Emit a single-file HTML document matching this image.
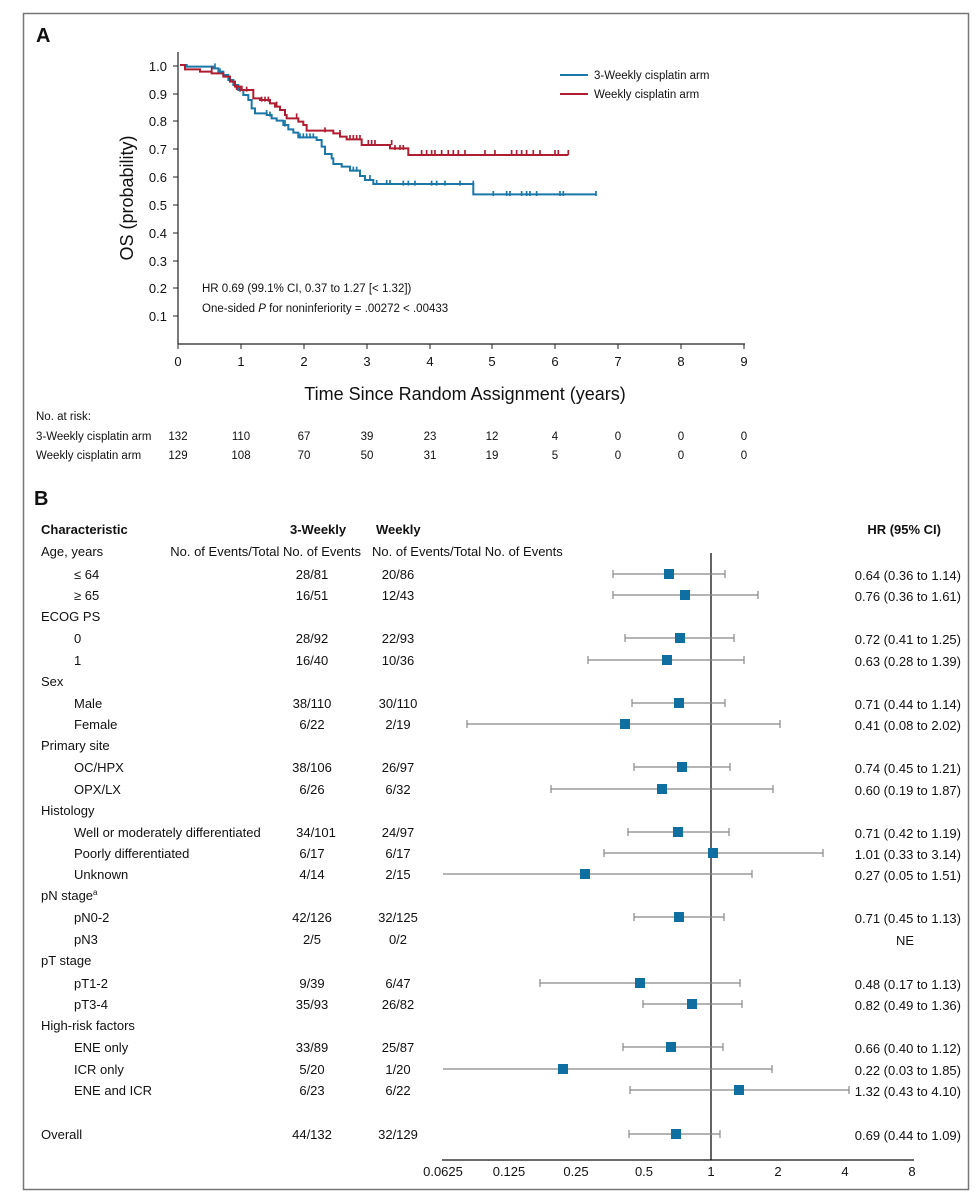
<!DOCTYPE html><html><head><meta charset="utf-8"><style>
body{margin:0;background:#fff;width:978px;height:1199px;overflow:hidden;font-family:"Liberation Sans",sans-serif}
svg text{font-family:"Liberation Sans",sans-serif;fill:#111}
</style></head><body>
<svg width="978" height="1199" xmlns="http://www.w3.org/2000/svg">
<rect x="23.5" y="13.5" width="945" height="1176" fill="none" stroke="#777" stroke-width="1.5"/>
<text x="36" y="42" font-size="20" font-weight="bold">A</text>
<text x="34" y="505" font-size="20" font-weight="bold">B</text>
<!-- KM axes -->
<g stroke="#222" stroke-width="1.2">
<line x1="178" y1="52" x2="178" y2="344"/><line x1="178" y1="344" x2="745" y2="344"/>
</g>
<g stroke="#222" stroke-width="1">
<line x1="173" y1="66" x2="178" y2="66"/><line x1="173" y1="94" x2="178" y2="94"/><line x1="173" y1="121" x2="178" y2="121"/><line x1="173" y1="149" x2="178" y2="149"/><line x1="173" y1="177" x2="178" y2="177"/><line x1="173" y1="205" x2="178" y2="205"/><line x1="173" y1="233" x2="178" y2="233"/><line x1="173" y1="261" x2="178" y2="261"/><line x1="173" y1="288" x2="178" y2="288"/><line x1="173" y1="316" x2="178" y2="316"/>
<line x1="178" y1="344" x2="178" y2="349"/><line x1="241" y1="344" x2="241" y2="349"/><line x1="304" y1="344" x2="304" y2="349"/><line x1="367" y1="344" x2="367" y2="349"/><line x1="430" y1="344" x2="430" y2="349"/><line x1="492" y1="344" x2="492" y2="349"/><line x1="555" y1="344" x2="555" y2="349"/><line x1="618" y1="344" x2="618" y2="349"/><line x1="681" y1="344" x2="681" y2="349"/><line x1="744" y1="344" x2="744" y2="349"/>
</g>
<g font-size="13" text-anchor="end">
<text x="167" y="71">1.0</text><text x="167" y="99">0.9</text><text x="167" y="126">0.8</text><text x="167" y="154">0.7</text><text x="167" y="182">0.6</text><text x="167" y="210">0.5</text><text x="167" y="238">0.4</text><text x="167" y="266">0.3</text><text x="167" y="293">0.2</text><text x="167" y="321">0.1</text>
</g>
<g font-size="13" text-anchor="middle">
<text x="178" y="366">0</text><text x="241" y="366">1</text><text x="304" y="366">2</text><text x="367" y="366">3</text><text x="430" y="366">4</text><text x="492" y="366">5</text><text x="555" y="366">6</text><text x="618" y="366">7</text><text x="681" y="366">8</text><text x="744" y="366">9</text>
</g>
<text x="465" y="400" font-size="18" text-anchor="middle">Time Since Random Assignment (years)</text>
<text transform="translate(133,198) rotate(-90)" font-size="18" text-anchor="middle">OS (probability)</text>
<text x="202" y="292" font-size="11.5">HR 0.69 (99.1% CI, 0.37 to 1.27 [&lt; 1.32])</text>
<text x="202" y="312" font-size="11.5">One-sided <tspan font-style="italic">P</tspan> for noninferiority = .00272 &lt; .00433</text>
<line x1="560" y1="75" x2="588" y2="75" stroke="#1a77a8" stroke-width="2"/>
<text x="594" y="79" font-size="11.5">3-Weekly cisplatin arm</text>
<line x1="560" y1="94" x2="588" y2="94" stroke="#b01c30" stroke-width="2"/>
<text x="594" y="98" font-size="11.5">Weekly cisplatin arm</text>
<g transform="translate(170,50) scale(0.3333)" fill="none" stroke-width="6">
<polyline stroke="#1a77a8" points="30,45 50,45 50,50 130,50 130,55 145,55 145,65 160,65 160,75 175,75 175,90 190,90 190,105 205,105 205,120 220,120 220,135 235,135 235,150 245,150 245,175 255,175 255,190 290,190 290,195 305,195 305,205 320,205 320,212 340,212 340,225 355,225 355,238 370,238 370,248 385,248 385,262 440,262 440,270 455,270 455,290 465,290 465,312 485,312 485,325 490,325 490,342 515,342 515,350 540,350 540,362 570,362 570,378 585,378 585,390 610,390 610,402 910,402 910,433 1280,433"/>
<polyline stroke="#b01c30" points="30,45 45,45 45,58 90,58 90,65 125,65 125,70 160,70 160,80 180,80 180,95 195,95 195,110 215,110 215,120 250,120 250,145 270,145 270,150 300,150 300,160 315,160 315,170 330,170 330,180 345,180 345,195 350,195 350,205 385,205 385,215 400,215 400,225 410,225 410,242 490,242 490,250 510,250 510,260 530,260 530,268 575,268 575,285 660,285 660,295 715,295 715,315 1195,315"/>
<g stroke="#1a77a8" stroke-width="5"><path d="M135,40v15M150,55v15M290,180v15M300,185v15M345,210v20M390,250v15M400,250v15M410,250v15M420,250v15M430,250v15M550,350v15M560,350v15M600,375v15M620,390v15M650,390v15M660,390v15M700,392v15M715,392v15M735,392v15M785,392v15M800,392v15M825,392v15M870,392v15M910,392v15M970,423v15M1010,423v15M1020,423v15M1055,423v15M1070,423v15M1080,423v15M1100,423v15M1170,423v15M1180,423v15M1278,423v15"/></g>
<g stroke="#b01c30" stroke-width="5"><path d="M125,50v15M200,105v15M210,110v15M230,110v15M275,140v15M285,140v15M295,140v15M320,155v15M380,190v15M465,232v15M510,240v15M540,255v15M550,255v15M560,255v15M570,255v15M595,270v15M605,270v15M615,270v15M665,270v15M675,285v15M690,285v15M700,285v15M755,300v15M770,300v15M785,300v15M795,300v15M815,300v15M835,300v15M850,300v15M865,300v15M885,300v15M945,300v15M975,300v15M1025,300v15M1040,300v15M1055,300v15M1070,300v15M1090,300v15M1110,300v15M1155,300v15M1165,300v15M1195,300v15"/></g>
</g>
<!-- risk table -->
<g font-size="11.5">
<text x="36" y="420">No. at risk:</text>
<text x="36" y="440">3-Weekly cisplatin arm</text><text x="36" y="459">Weekly cisplatin arm</text>
</g>
<g font-size="11.5" text-anchor="middle">
<text x="178" y="440">132</text><text x="241" y="440">110</text><text x="304" y="440">67</text><text x="367" y="440">39</text><text x="430" y="440">23</text><text x="492" y="440">12</text><text x="555" y="440">4</text><text x="618" y="440">0</text><text x="681" y="440">0</text><text x="744" y="440">0</text>
<text x="178" y="459">129</text><text x="241" y="459">108</text><text x="304" y="459">70</text><text x="367" y="459">50</text><text x="430" y="459">31</text><text x="492" y="459">19</text><text x="555" y="459">5</text><text x="618" y="459">0</text><text x="681" y="459">0</text><text x="744" y="459">0</text>
</g>
<!-- forest -->
<g font-size="13">
<text x="41" y="534" font-weight="bold">Characteristic</text>
<text x="290" y="534" font-weight="bold">3-Weekly</text>
<text x="376" y="534" font-weight="bold">Weekly</text>
<text x="941" y="534" font-weight="bold" text-anchor="end">HR (95% CI)</text>
<text x="41" y="556">Age, years</text>
<text x="361" y="556" text-anchor="end">No. of Events/Total No. of Events</text>
<text x="372" y="556">No. of Events/Total No. of Events</text>
<g>
<text x="74" y="579">≤ 64</text><text x="74" y="600">≥ 65</text>
<text x="41" y="621">ECOG PS</text><text x="74" y="643">0</text><text x="74" y="665">1</text>
<text x="41" y="686">Sex</text><text x="74" y="708">Male</text><text x="74" y="729">Female</text>
<text x="41" y="750">Primary site</text><text x="74" y="772">OC/HPX</text><text x="74" y="794">OPX/LX</text>
<text x="41" y="815">Histology</text><text x="74" y="837">Well or moderately differentiated</text><text x="74" y="858">Poorly differentiated</text><text x="74" y="879">Unknown</text>
<text x="41" y="900">pN stage<tspan font-size="8" dy="-5">a</tspan></text><text x="74" y="922">pN0-2</text><text x="74" y="944">pN3</text>
<text x="41" y="965">pT stage</text><text x="74" y="988">pT1-2</text><text x="74" y="1009">pT3-4</text>
<text x="41" y="1030">High-risk factors</text><text x="74" y="1052">ENE only</text><text x="74" y="1074">ICR only</text><text x="74" y="1095">ENE and ICR</text>
<text x="41" y="1139">Overall</text>
</g>
<g text-anchor="middle">
<text x="312" y="579">28/81</text><text x="398" y="579">20/86</text>
<text x="312" y="600">16/51</text><text x="398" y="600">12/43</text>
<text x="312" y="643">28/92</text><text x="398" y="643">22/93</text>
<text x="312" y="665">16/40</text><text x="398" y="665">10/36</text>
<text x="312" y="708">38/110</text><text x="398" y="708">30/110</text>
<text x="312" y="729">6/22</text><text x="398" y="729">2/19</text>
<text x="312" y="772">38/106</text><text x="398" y="772">26/97</text>
<text x="312" y="794">6/26</text><text x="398" y="794">6/32</text>
<text x="316" y="837">34/101</text><text x="398" y="837">24/97</text>
<text x="312" y="858">6/17</text><text x="398" y="858">6/17</text>
<text x="312" y="879">4/14</text><text x="398" y="879">2/15</text>
<text x="312" y="922">42/126</text><text x="398" y="922">32/125</text>
<text x="312" y="944">2/5</text><text x="398" y="944">0/2</text>
<text x="312" y="988">9/39</text><text x="398" y="988">6/47</text>
<text x="312" y="1009">35/93</text><text x="398" y="1009">26/82</text>
<text x="312" y="1052">33/89</text><text x="398" y="1052">25/87</text>
<text x="312" y="1074">5/20</text><text x="398" y="1074">1/20</text>
<text x="312" y="1095">6/23</text><text x="398" y="1095">6/22</text>
<text x="312" y="1139">44/132</text><text x="398" y="1139">32/129</text>
</g>
<g text-anchor="end">
<text x="961" y="580">0.64 (0.36 to 1.14)</text><text x="961" y="601">0.76 (0.36 to 1.61)</text>
<text x="961" y="644">0.72 (0.41 to 1.25)</text><text x="961" y="666">0.63 (0.28 to 1.39)</text>
<text x="961" y="709">0.71 (0.44 to 1.14)</text><text x="961" y="730">0.41 (0.08 to 2.02)</text>
<text x="961" y="773">0.74 (0.45 to 1.21)</text><text x="961" y="795">0.60 (0.19 to 1.87)</text>
<text x="961" y="838">0.71 (0.42 to 1.19)</text><text x="961" y="859">1.01 (0.33 to 3.14)</text><text x="961" y="880">0.27 (0.05 to 1.51)</text>
<text x="961" y="923">0.71 (0.45 to 1.13)</text><text x="914" y="945">NE</text>
<text x="961" y="989">0.48 (0.17 to 1.13)</text><text x="961" y="1010">0.82 (0.49 to 1.36)</text>
<text x="961" y="1053">0.66 (0.40 to 1.12)</text><text x="961" y="1075">0.22 (0.03 to 1.85)</text><text x="961" y="1096">1.32 (0.43 to 4.10)</text>
<text x="961" y="1140">0.69 (0.44 to 1.09)</text>
</g>
</g>
<line x1="711" y1="553" x2="711" y2="1160" stroke="#111" stroke-width="1.3"/>
<line x1="442" y1="1160" x2="914" y2="1160" stroke="#111" stroke-width="1.3"/>
<g font-size="13" text-anchor="middle">
<text x="443" y="1176">0.0625</text><text x="509" y="1176">0.125</text><text x="576" y="1176">0.25</text><text x="644" y="1176">0.5</text><text x="711" y="1176">1</text><text x="778" y="1176">2</text><text x="845" y="1176">4</text><text x="912" y="1176">8</text>
</g>
<g stroke="#888" stroke-width="1.2" fill="none">
<path d="M613,574H725M613,570v8M725,570v8"/>
<path d="M613,595H758M613,591v8M758,591v8"/>
<path d="M625,638H734M625,634v8M734,634v8"/>
<path d="M588,660H744M588,656v8M744,656v8"/>
<path d="M632,703H725M632,699v8M725,699v8"/>
<path d="M467,724H780M467,720v8M780,720v8"/>
<path d="M634,767H730M634,763v8M730,763v8"/>
<path d="M551,789H773M551,785v8M773,785v8"/>
<path d="M628,832H729M628,828v8M729,828v8"/>
<path d="M604,853H823M604,849v8M823,849v8"/>
<path d="M443,874H752M752,870v8"/>
<path d="M634,917H724M634,913v8M724,913v8"/>
<path d="M540,983H740M540,979v8M740,979v8"/>
<path d="M643,1004H742M643,1000v8M742,1000v8"/>
<path d="M623,1047H723M623,1043v8M723,1043v8"/>
<path d="M443,1069H772M772,1065v8"/>
<path d="M630,1090H849M630,1086v8M849,1086v8"/>
<path d="M629,1134H720M629,1130v8M720,1130v8"/>
</g>
<g fill="#0f6fa0">
<rect x="664" y="569" width="10" height="10"/><rect x="680" y="590" width="10" height="10"/>
<rect x="675" y="633" width="10" height="10"/><rect x="662" y="655" width="10" height="10"/>
<rect x="674" y="698" width="10" height="10"/><rect x="620" y="719" width="10" height="10"/>
<rect x="677" y="762" width="10" height="10"/><rect x="657" y="784" width="10" height="10"/>
<rect x="673" y="827" width="10" height="10"/><rect x="708" y="848" width="10" height="10"/><rect x="580" y="869" width="10" height="10"/>
<rect x="674" y="912" width="10" height="10"/>
<rect x="635" y="978" width="10" height="10"/><rect x="687" y="999" width="10" height="10"/>
<rect x="666" y="1042" width="10" height="10"/><rect x="558" y="1064" width="10" height="10"/><rect x="734" y="1085" width="10" height="10"/>
<rect x="671" y="1129" width="10" height="10"/>
</g>
</svg>
</body></html>
